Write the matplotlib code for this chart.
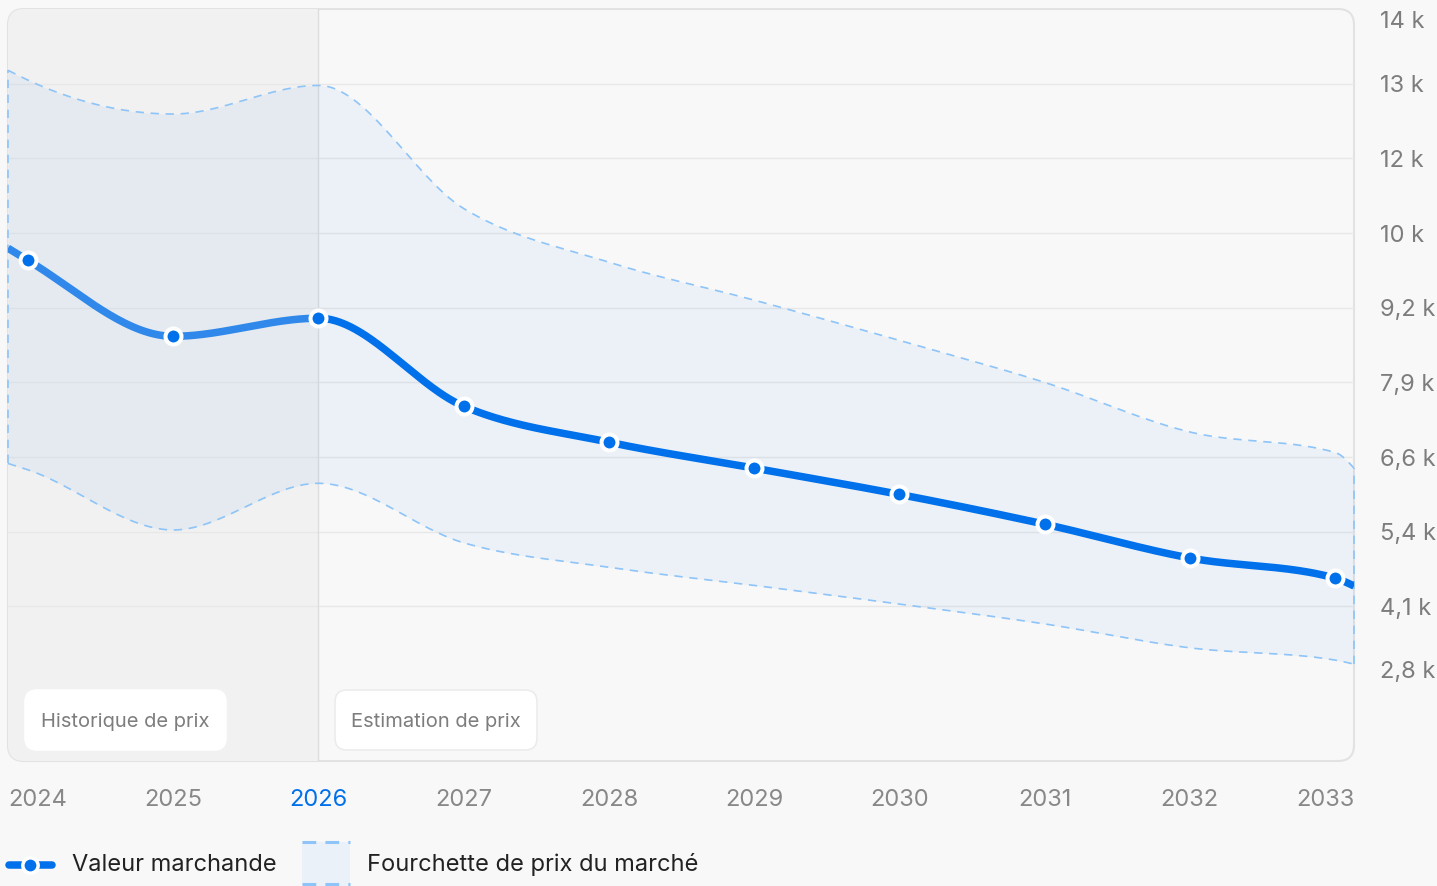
import numpy as np
import matplotlib
from matplotlib import pyplot as plt
from matplotlib import patches, transforms
from matplotlib.lines import Line2D

matplotlib.rcParams['font.family'] = ['Inter', 'DejaVu Sans']

# data
years = [2024, 2025, 2026, 2027, 2028, 2029, 2030, 2031, 2032, 2033]
value = [10010, 8710, 9020, 7510, 6895, 6450, 6000, 5490, 4910, 4565]
upper = [13100, 12520, 13010, 10900, 9980, 9330, 8640, 7920, 7070, 6720]
lower = [6420, 5390, 6190, 5170, 4750, 4440, 4120, 3780, 3370, 3160]
# values where the curves meet the plot edges
edge_value = [10220, 4430]
edge_upper = [13270, 6450]
edge_lower = [6530, 3090]
y_ticks = [2800, 4080, 5360, 6640, 7920, 9200, 10480, 11760, 13040, 14320]
y_labels = ['2,8 k', '4,1 k', '5,4 k', '6,6 k', '7,9 k', '9,2 k', '10 k', '12 k', '13 k', '14 k']
split_year = 2026

W, H = 1437, 886
x_min, x_max = 2023.862, 2033.131
y_min, y_max = 1430, 14320

BLUE = '#0070eb'
BLUE_HIST = '#2f88ea'
BAND_EDGE = '#8ec4f8'
GREY_TXT = '#7d7d7d'


def monotone(xs, ys, n=60):
    xs = np.asarray(xs, float)
    ys = np.asarray(ys, float)
    h = np.diff(xs)
    s = np.diff(ys) / h
    m = np.zeros_like(ys)
    for i in range(1, len(ys) - 1):
        p = (s[i - 1] * h[i] + s[i] * h[i - 1]) / (h[i - 1] + h[i])
        m[i] = (np.sign(s[i - 1]) + np.sign(s[i])) * min(abs(s[i - 1]), abs(s[i]), 0.5 * abs(p))
    m[0] = (3 * s[0] - m[1]) / 2
    m[-1] = (3 * s[-1] - m[-2]) / 2
    out_x, out_y = [], []
    for i in range(len(h)):
        t = np.linspace(0, 1, n)
        h00 = 2 * t**3 - 3 * t**2 + 1
        h10 = t**3 - 2 * t**2 + t
        h01 = -2 * t**3 + 3 * t**2
        h11 = t**3 - t**2
        out_x.append(xs[i] + t * h[i])
        out_y.append(h00 * ys[i] + h10 * h[i] * m[i] + h01 * ys[i + 1] + h11 * h[i] * m[i + 1])
    return np.concatenate(out_x), np.concatenate(out_y)


xs_full = [x_min] + years + [x_max]
xx, vv = monotone(xs_full, [edge_value[0]] + value + [edge_value[1]])
_, uu = monotone(xs_full, [edge_upper[0]] + upper + [edge_upper[1]])
_, ll = monotone(xs_full, [edge_lower[0]] + lower + [edge_lower[1]])

fig = plt.figure(figsize=(W / 100, H / 100), dpi=100, facecolor='#f8f8f8')
ax = fig.add_axes([8 / W, (H - 761) / H, 1346 / W, 752 / H])
ax.set_facecolor('none')
ax.set_xlim(x_min, x_max)
ax.set_ylim(y_min, y_max)
for sp in ax.spines.values():
    sp.set_visible(False)

# rounded frame
frame = patches.FancyBboxPatch((8, H - 761), 1346, 752, boxstyle='round,pad=0,rounding_size=16',
                               transform=transforms.IdentityTransform(), facecolor='#f8f8f8',
                               edgecolor='#e2e2e2', linewidth=1.5, zorder=-1)
fig.add_artist(frame)

shade = ax.axvspan(x_min, split_year, color='#f1f1f1', lw=0, zorder=0)
shade.set_clip_path(frame)

for v in y_ticks[1:-1]:
    ax.axhline(v, color='#e8e8e8', lw=1, zorder=1)
ax.axvline(split_year, color='#dddddd', lw=1, zorder=1)

band = ax.fill_between(xx, ll, uu, color=BLUE, alpha=0.05, lw=0, zorder=2)
ax.plot(xx, uu, color=BAND_EDGE, lw=1.2, dashes=(5, 4), zorder=3)
ax.plot(xx, ll, color=BAND_EDGE, lw=1.2, dashes=(5, 4), zorder=3)
ax.vlines([x_min, x_max], [ll[0], ll[-1]], [uu[0], uu[-1]], color=BAND_EDGE, lw=1.2,
          linestyles=(0, (5, 4)), zorder=3, clip_on=False)

hist = xx <= split_year
fut = xx >= split_year
ax.plot(xx[hist], vv[hist], color=BLUE_HIST, lw=5.4, solid_capstyle='butt', zorder=4)
ax.plot(xx[fut], vv[fut], color=BLUE, lw=5.4, solid_capstyle='butt', zorder=4)
ax.plot(years, value, 'o', ms=11.5, mfc=BLUE, mec='white', mew=2.9, zorder=5)

# period labels
for x0, w, txt, ec in [(25, 201, 'Historique de prix', 'white'), (335, 202, 'Estimation de prix', '#ececec')]:
    box = patches.FancyBboxPatch((x0, H - 750), w, 60, boxstyle='round,pad=0,rounding_size=12',
                                 transform=transforms.IdentityTransform(), facecolor='white',
                                 edgecolor=ec, linewidth=1.2, zorder=6)
    fig.add_artist(box)
    fig.text((x0 + w / 2) / W, 1 - 722 / H, txt, ha='center', va='center', fontsize=14.5,
             color=GREY_TXT, zorder=7)

# y ticks on the right
ax.yaxis.tick_right()
ax.set_yticks(y_ticks)
ax.set_yticklabels(y_labels)
ax.tick_params(axis='y', length=0, pad=19, labelsize=17, labelcolor=GREY_TXT)
ylabs = ax.get_yticklabels()
ylabs[0].set_transform(ylabs[0].get_transform() + transforms.ScaledTranslation(0, 0.12, fig.dpi_scale_trans))
ylabs[-1].set_transform(ylabs[-1].get_transform() + transforms.ScaledTranslation(0, -0.11, fig.dpi_scale_trans))

# x ticks
ax.set_xticks(years)
ax.set_xticklabels([str(y) for y in years])
ax.tick_params(axis='x', length=0, pad=20, labelsize=17, labelcolor='#888888')
xlabs = ax.get_xticklabels()
xlabs[0].set_transform(xlabs[0].get_transform() + transforms.ScaledTranslation(0.10, 0, fig.dpi_scale_trans))
xlabs[-1].set_transform(xlabs[-1].get_transform() + transforms.ScaledTranslation(-0.10, 0, fig.dpi_scale_trans))
xlabs[years.index(split_year)].set_color(BLUE)

# legend
ly = H - 865
fig.add_artist(Line2D([9, 21], [ly, ly], transform=transforms.IdentityTransform(), color=BLUE, lw=5.4,
                      solid_capstyle='round'))
fig.add_artist(Line2D([39, 52], [ly, ly], transform=transforms.IdentityTransform(), color=BLUE, lw=5.4,
                      solid_capstyle='round'))
fig.add_artist(Line2D([30], [ly], transform=transforms.IdentityTransform(), marker='o', ms=11,
                      mfc=BLUE, mec='white', mew=2.5))
fig.text(72 / W, ly / H, 'Valeur marchande', ha='left', va='center', fontsize=17, color='#222222')
fig.add_artist(patches.Rectangle((302, 0), 48, H - 842, transform=transforms.IdentityTransform(),
                                 facecolor='#ebf1f9', edgecolor='none'))
for yy in [H - 842, 2]:
    fig.add_artist(Line2D([302, 350], [yy, yy], transform=transforms.IdentityTransform(),
                          color=BAND_EDGE, lw=2.2, dashes=(4.5, 3)))
fig.text(367 / W, ly / H, 'Fourchette de prix du marché', ha='left', va='center', fontsize=17,
         color='#222222')

plt.savefig('out.png', dpi=100, facecolor=fig.get_facecolor())
plt.close()
